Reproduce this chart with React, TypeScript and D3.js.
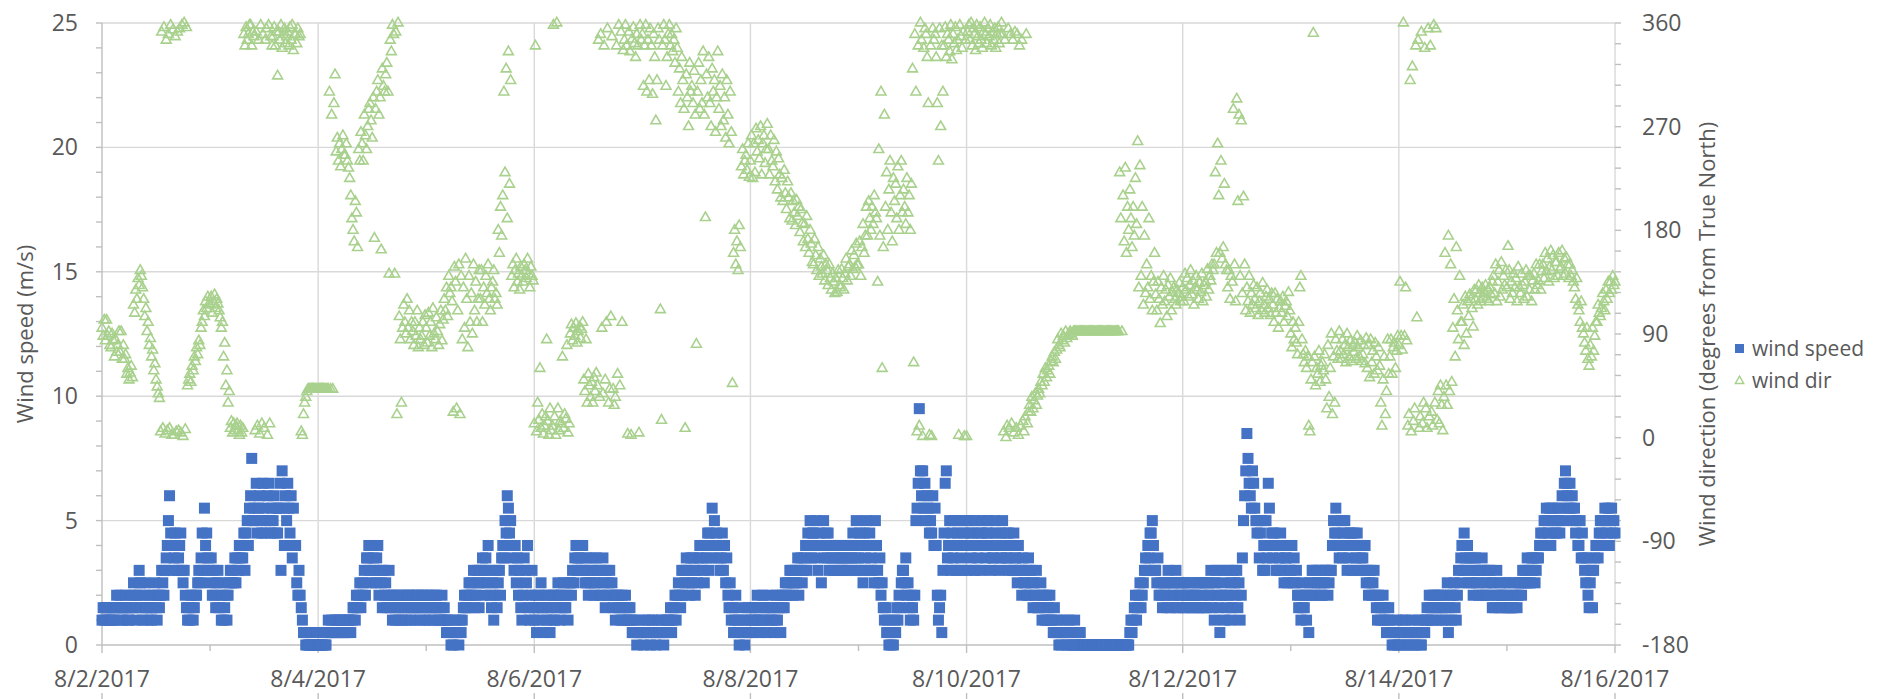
import React, { useEffect, useRef } from 'react';
import * as d3 from 'd3';

// readings every 15 minutes, one row per day starting 8/2/2017 00:00
const startDate = new Date(2017, 7, 2);
const stepMinutes = 15;

const xTickLabels = ['8/2/2017', '8/4/2017', '8/6/2017', '8/8/2017', '8/10/2017', '8/12/2017', '8/14/2017', '8/16/2017'];
const speedTicks = [0, 5, 10, 15, 20, 25];
const dirTicks = [-180, -90, 0, 90, 180, 270, 360];

// wind speed (m/s)
const windSpeedByDay = [
  [1.0,1.5,1.0,1.5, 1.5,1.0,1.5,1.0, 1.0,1.5,1.0,1.5, 1.5,2.0,1.5,1.0, 2.0,1.5,1.0,1.5, 1.5,2.0,1.5,1.0, 1.0,1.5,2.0,1.5, 2.5,2.0,1.5,1.0, 2.0,3.0,2.5,1.5, 1.0,2.0,2.5,1.5, 1.5,1.0,2.0,1.5, 1.0,1.5,2.0,2.5, 1.5,1.0,2.0,1.5, 2.0,3.0,2.5,2.0, 3.0,3.5,4.0,5.0, 6.0,4.5,4.0,3.0, 3.5,4.5,4.0,3.0, 3.5,4.0,4.5,3.0, 2.5,3.0,2.0,1.5, 1.0,1.5,1.0,2.0, 1.5,1.0,1.5,2.0, 2.0,2.5,3.0,2.5, 3.5,4.5,3.0,5.5, 4.0,4.5,3.5,3.0],
  [2.5,3.5,2.0,3.0, 2.0,1.5,2.5,3.0, 1.5,2.5,1.0,2.0, 1.0,1.5,2.0,1.0, 2.0,2.5,3.0,2.5, 3.0,2.5,3.5,2.5, 3.5,3.0,4.0,3.5, 4.0,3.5,4.5,3.0, 4.5,5.0,4.0,5.5, 6.0,7.5,5.0,5.5, 5.0,6.5,4.5,5.5, 6.0,5.0,4.5,6.5, 5.5,4.5,5.0,6.0, 6.5,5.0,4.5,5.5, 5.0,6.0,4.5,5.5, 4.5,5.5,6.5,3.0, 7.0,5.5,4.0,6.0, 5.0,6.5,5.5,4.5, 6.0,3.5,5.5,4.0, 4.0,2.5,2.0,3.0, 2.0,1.5,1.0,0.5, 0.5,0,0.5,0, 0,0,0.5,0, 0,0,0,0.5],
  [0,0,0,0, 0,0.5,0,0, 0.5,1.0,0.5,0.5, 1.0,0.5,0.5,1.0, 0.5,1.0,0.5,1.0, 1.0,0.5,1.0,0.5, 0.5,1.0,0.5,1.0, 1.0,0.5,1.0,1.5, 1.5,1.0,2.0,1.5, 2.0,2.5,1.5,2.0, 2.5,3.0,2.0,3.5, 3.5,4.0,3.0,2.5, 4.0,3.5,3.0,2.5, 3.5,4.0,2.0,3.0, 2.5,1.5,3.0,2.0, 2.5,1.5,2.0,3.0, 1.5,2.0,1.0,2.0, 1.5,1.0,2.0,1.5, 1.0,2.0,1.5,1.0, 2.0,1.5,1.0,2.0, 1.5,2.0,1.0,1.5, 2.0,1.5,1.0,2.0, 1.5,2.0,1.5,1.0, 2.0,1.5,2.0,1.0],
  [1.5,2.0,1.0,1.5, 2.0,1.5,1.0,2.0, 1.5,2.0,1.5,1.0, 1.0,1.5,2.0,1.0, 1.5,1.0,0.5,1.0, 0.5,1.0,0,0.5, 0,0.5,1.0,0.5, 0.5,0,1.0,0.5, 1.0,1.5,2.0,1.5, 2.0,1.5,2.5,2.0, 2.5,2.0,3.0,1.5, 2.0,3.0,2.5,1.5, 3.0,2.5,3.5,2.0, 3.0,3.5,2.5,4.0, 3.0,2.0,1.5,2.5, 1.0,2.0,3.0,1.5, 2.5,3.0,2.0,3.5, 4.0,3.5,5.0,4.5, 6.0,5.5,4.5,5.0, 4.0,3.5,3.0,4.0, 2.5,3.5,2.0,3.0, 1.5,1.0,2.0,3.5, 3.0,2.5,4.0,1.5, 1.0,2.0,3.0,1.5],
  [1.0,2.0,0.5,1.5, 2.0,1.0,2.5,1.5, 1.5,0.5,2.0,1.0, 2.0,1.5,0.5,1.0, 1.5,2.0,1.0,2.0, 1.5,2.5,2.0,1.0, 2.0,1.5,2.5,1.5, 1.5,2.0,1.0,2.5, 2.5,2.0,3.0,2.5, 3.5,4.0,3.0,3.5, 4.0,3.5,3.0,4.0, 3.0,2.5,3.5,2.5, 2.0,3.0,2.5,3.5, 3.0,2.0,2.5,3.5, 2.5,3.0,2.0,3.0, 2.0,3.5,2.5,1.5, 3.0,2.0,2.5,3.0, 2.0,2.5,1.5,2.0, 1.0,2.0,1.5,2.0, 1.5,1.0,2.0,1.0, 1.5,2.0,1.0,1.5, 1.0,1.5,1.0,0.5, 0.5,1.0,0.5,0, 0.5,1.0,0.5,0.5],
  [0.5,0,0.5,1.0, 0.5,0.5,1.0,0, 0.5,1.0,0.5,0.5, 0,0.5,1.0,0.5, 0.5,1.0,0.5,0, 0.5,1.0,0.5,1.0, 1.0,1.5,0.5,1.0, 1.5,2.0,1.0,2.0, 2.5,2.0,1.5,3.0, 2.0,3.0,2.5,3.5, 3.0,2.5,2.0,3.5, 2.5,3.5,3.0,2.0, 3.0,2.5,3.5,4.0, 3.5,4.0,3.0,2.5, 4.0,3.5,4.5,3.0, 4.5,3.5,5.5,4.0, 5.0,4.0,4.5,3.5, 4.0,3.0,3.5,4.5, 3.0,4.0,2.5,3.5, 2.0,1.5,2.5,1.0, 1.5,0.5,1.0,2.0, 0.5,1.0,0,1.5, 0.5,1.0,0.5,0, 1.0,0.5,1.5,0.5],
  [1.0,1.5,0.5,1.0, 1.5,1.0,2.0,1.0, 1.5,0.5,1.0,2.0, 1.0,1.5,0.5,1.5, 2.0,1.0,1.5,1.0, 1.5,0.5,1.0,2.0, 1.0,1.5,2.0,0.5, 1.5,2.0,1.5,2.5, 2.0,2.5,2.0,3.0, 2.5,3.0,2.0,2.5, 3.0,2.5,3.5,2.0, 3.0,3.5,2.5,3.0, 3.5,4.0,3.0,4.5, 4.0,5.0,3.5,4.5, 4.5,3.5,5.0,4.0, 3.0,4.5,4.0,2.5, 4.0,5.0,3.5,4.5, 3.5,4.5,3.0,4.0, 3.5,4.0,3.0,4.0, 3.5,4.0,3.5,3.0, 4.0,3.5,3.0,4.0, 3.5,3.0,4.0,3.5, 3.0,4.0,3.5,4.5, 4.0,3.5,5.0,3.0],
  [3.5,4.5,3.0,4.0, 2.5,4.5,3.5,5.0, 4.0,3.0,4.5,3.5, 3.0,4.0,2.5,5.0, 4.0,3.0,2.5,3.5, 2.0,2.5,1.5,1.0, 1.5,0.5,1.0,0, 0.5,0,0.5,0, 1.0,0.5,1.5,1.0, 2.0,1.5,2.5,3.0, 3.0,2.5,3.5,2.0, 2.5,1.5,1.0,2.0, 1.5,1.0,2.0,5.0, 5.5,6.5,9.5,7.0, 6.0,7.0,5.5,6.5, 5.0,6.0,5.5,4.5, 5.0,4.5,6.0,4.0, 5.5,4.0,2.0,1.0, 1.5,2.0,0.5,3.0, 4.5,6.5,7.0,3.5, 4.0,5.0,3.0,4.5, 3.5,5.0,4.0,3.0, 4.5,4.0,5.0,3.5, 3.0,4.5,4.0,5.0],
  [4.0,3.0,4.5,5.0, 3.5,4.5,4.0,3.0, 5.0,4.0,3.5,4.5, 3.0,4.5,5.0,4.0, 4.0,3.5,4.5,5.0, 4.5,3.0,4.0,3.5, 3.5,5.0,4.5,4.0, 4.0,3.0,4.5,3.5, 5.0,4.0,3.5,4.5, 3.5,4.5,3.0,4.0, 4.0,3.0,4.5,3.5, 3.5,2.5,4.0,3.0, 3.0,2.0,3.5,2.5, 2.5,3.0,2.0,3.5, 2.0,3.0,2.5,1.5, 2.5,2.0,3.0,1.5, 1.5,2.0,2.5,1.0, 2.0,1.5,1.0,2.0, 1.0,1.5,2.0,1.0, 1.0,0.5,1.5,0.5, 0.5,1.0,0,0.5, 0,0.5,1.0,0.5, 0.5,0,0.5,1.0, 0,0.5,0,0],
  [1.0,0.5,0,0.5, 0,0.5,0,0, 0,0,0,0, 0,0,0,0, 0,0,0,0, 0,0,0,0, 0,0,0,0, 0,0,0,0, 0,0,0,0, 0,0,0,0, 0,0,0,0, 0,0,0,0, 0,0.5,1.0,0.5, 1.0,1.5,2.0,1.0, 1.5,2.0,2.5,1.5, 2.0,2.5,3.0,3.5, 3.0,4.0,3.5,4.5, 4.5,5.0,4.0,3.0, 3.0,2.5,3.5,2.0, 2.5,2.0,1.5,2.5, 2.0,2.5,1.5,3.0, 2.5,1.5,2.0,2.5, 2.0,2.5,3.0,1.5, 1.5,2.5,2.0,2.5],
  [2.0,1.5,2.5,2.0, 1.5,2.5,2.0,1.5, 2.5,2.0,1.5,2.0, 2.0,2.5,1.5,2.5, 1.5,2.0,2.5,1.5, 2.5,1.5,2.0,2.5, 2.0,3.0,1.5,2.5, 1.0,2.5,3.0,2.0, 1.5,0.5,2.0,3.0, 2.5,1.0,2.0,1.5, 3.0,2.0,1.0,2.5, 1.5,3.0,2.5,2.0, 3.0,1.5,2.5,1.0, 2.0,3.5,5.0,6.0, 7.0,8.5,7.5,6.5, 6.0,5.5,7.0,6.5, 5.5,5.0,4.5,5.0, 3.5,4.5,5.0,3.0, 4.0,3.0,5.0,3.5, 6.5,5.5,4.0,4.5, 3.5,4.5,4.0,3.0, 4.0,3.0,3.5,4.5, 3.0,4.0,2.5,3.5, 3.5,2.5,4.0,3.0],
  [3.0,4.0,2.5,3.5, 2.5,3.0,2.0,1.5, 2.0,1.0,1.5,2.5, 1.5,2.0,1.0,2.0, 0.5,2.5,2.0,3.0, 3.0,2.5,2.0,3.0, 2.5,3.0,2.0,2.5, 2.0,3.0,2.5,3.0, 3.0,2.0,2.5,3.0, 3.0,4.0,5.0,4.5, 5.5,4.5,4.0,3.5, 4.0,5.0,3.5,4.5, 5.0,4.0,3.0,4.5, 3.5,4.5,4.0,3.0, 4.5,4.0,3.5,4.5, 3.0,4.0,3.5,4.0, 3.5,3.0,4.0,2.5, 3.0,2.0,2.5,3.0, 2.0,2.5,3.0,2.0, 1.5,1.0,2.0,1.5, 1.0,1.5,2.0,1.0, 1.5,0.5,1.0,1.5, 1.0,0.5,0,0.5, 0,0.5,1.0,0],
  [0.5,0,0.5,1.0, 0,0.5,1.0,0.5, 0.5,0,0.5,0, 1.0,0.5,0,0.5, 0.5,1.0,0.5,0, 0,0.5,1.0,0.5, 1.0,1.5,1.0,2.0, 1.5,1.0,2.0,1.5, 2.0,1.0,1.5,2.0, 1.5,2.0,1.0,1.5, 2.0,1.5,1.0,2.5, 0.5,1.5,2.0,1.0, 2.0,2.5,1.5,1.0, 2.0,3.0,2.5,3.5, 4.0,3.0,4.5,3.5, 3.0,4.0,2.5,3.5, 2.5,3.5,2.0,3.0, 3.5,2.5,3.0,2.0, 2.5,3.0,3.5,2.0, 3.0,2.0,2.5,3.0, 2.0,3.0,2.5,1.5, 2.5,1.5,2.0,3.0, 2.0,1.5,2.5,2.0, 1.5,2.0,2.5,1.5],
  [2.0,1.5,2.5,1.5, 1.5,2.0,1.5,2.5, 2.0,1.5,2.0,2.5, 2.5,2.0,3.0,2.5, 3.0,2.5,3.5,2.5, 3.0,2.5,3.5,3.0, 3.5,2.5,3.0,3.5, 3.5,4.0,4.5,4.0, 4.5,5.0,4.0,5.5, 5.0,4.5,5.5,4.0, 5.5,5.0,4.5,5.0, 4.5,5.5,5.0,4.5, 5.5,6.0,5.0,6.5, 7.0,6.5,6.0,5.5, 6.5,5.5,6.0,5.0, 5.5,4.5,5.0,4.0, 4.0,5.0,3.5,4.5, 3.5,3.0,2.5,3.5, 2.0,1.5,2.5,3.0, 1.5,3.0,3.5,4.0, 4.0,3.5,4.5,5.0, 4.5,5.0,4.0,5.5, 5.0,4.5,5.5,4.0, 5.0,5.5,4.5,5.0],
  [4.5],
];

// wind direction (degrees from true north)
const windDirByDay = [
  [95,88,102,84, 102,88,92,80, 78,90,84,70, 85,74,80,92, 74,92,68,80, 68,72,55,60, 50,56,62,52, 115,108,128,120, 138,132,145,140, 130,120,105,112, 92,100,80,86, 70,76,58,64, 50,44,38,34, 5,352,8,356, 3,345,6,350, 8,358,2,354, 2,348,5,352, 6,355,4,358, 1,360,7,356, 45,50,55,48, 62,58,70,66, 78,72,84,80, 95,100,110,105, 118,112,122,116],
  [115,122,108,118, 124,112,120,116, 110,104,95,100, 70,82,45,58, 30,40,8,14, 4,12,6,10, 12,6,2,10, 4,8,350,340, 356,345,350,358, 358,340,352,348, 6,352,10,345, 3,358,12,350, 8,345,355,2, 358,12,348,340, 348,356,340,352, 314,352,345,358, 338,350,355,342, 348,352,340,356, 345,358,336,350, 350,342,355,348, 350,5,2,20, 30,35,40,42, 42,42,42,42, 42,42,42,42],
  [42,42,42,42, 42,42,42,42, 42,42,300,42, 280,42,290,315, 248,260,240,255, 235,250,262,245, 245,255,240,234, 225,210,190,180, 170,205,195,165, 250,240,265,255, 240,280,262,250, 270,285,290,275, 260,295,173,285, 300,310,280,295, 163,320,305,300, 315,325,300,142, 345,335,358,350, 142,352,20,360, 105,85,30,95, 115,100,90,120, 95,110,85,100, 92,80,100,88, 110,78,95,85, 88,100,80,106],
  [95,82,108,88, 100,78,112,90, 85,104,92,80, 98,110,84,102, 120,110,130,105, 140,125,130,118, 22,148,135,25, 110,150,20,140, 85,130,95,155, 120,78,140,100, 125,90,150,110, 135,100,120,145, 120,145,100,130, 115,140,125,150, 120,110,130,135, 145,120,125,115, 180,160,200,175, 210,300,230,320, 190,335,220,310, 140,150,130,145, 155,135,142,128, 148,140,135,150, 145,138,155,142, 130,148,140,136],
  [12,340,5,30, 15,60,8,20, 3,10,18,85, 14,2,25,6, 10,358,18,2, 360,25,6,14, 12,70,8,20, 16,80,4,12, 90,98,84,95, 88,99,82,92, 96,86,94,100, 50,40,85,30, 55,45,35,48, 30,52,40,56, 45,345,35,350, 95,38,340,50, 100,355,30,42, 105,348,42,28, 35,340,55,358, 45,352,100,336, 345,358,340,3, 352,335,2,346, 356,342,330,350, 340,4,358,345],
  [350,305,340,358, 300,345,310,355, 340,298,350,330, 275,310,355,345, 111,15,340,358, 345,305,330,350, 358,340,350,335, 345,325,355,338, 300,320,290,330, 310,285,8,315, 295,270,325,300, 305,290,318,280, 81,300,325,285, 310,290,335,280, 191,315,295,330, 290,270,320,300, 310,265,295,335, 285,305,270,315, 275,295,260,310, 280,255,300,265, 47,160,180,150, 170,145,184,165, 235,250,228,240, 245,232,255,226],
  [240,262,225,255, 230,268,248,258, 242,270,228,255, 262,238,250,272, 250,228,262,240, 235,258,222,248, 215,242,228,208, 225,205,232,212, 198,222,208,190, 212,188,205,195, 184,206,192,200, 178,198,186,170, 185,165,192,172, 160,180,168,152, 150,172,158,145, 165,140,155,148, 142,158,136,150, 145,132,150,138, 128,142,135,125, 138,126,145,132, 130,146,138,128, 142,155,136,148, 150,140,162,146, 158,148,168,150],
  [150,170,140,165, 185,160,175,200, 175,205,190,180, 200,185,210,195, 190,135,250,175, 300,60,165,280, 200,230,180,215, 240,195,170,225, 205,220,190,235, 180,210,240,195, 215,200,185,225, 195,210,180,220, 320,65,350,300, 5,340,10,360, 345,1,338,355, 350,330,290,2, 340,1,355,345, 350,330,290,240, 355,270,340,300, 340,356,330,350, 345,335,358,328, 350,342,356,336, 345,2,358,348, 338,352,1,345],
  [1,352,358,345, 360,340,355,350, 336,358,348,342, 356,345,338,352, 360,350,342,355, 348,358,340,352, 345,355,338,350, 356,342,350,360, 350,5,345,0, 10,355,8,350, 12,345,4,352, 8,350,2,340, 10,345,14,5, 18,350,12,22, 28,22,35,25, 32,38,28,36, 42,38,48,45, 55,48,60,52, 58,62,55,66, 70,65,74,68, 76,85,80,78, 90,84,88,82, 92,86,88,90, 92,90,88,92],
  [92,92,92,92, 92,92,92,92, 92,92,92,92, 92,92,92,92, 92,92,92,92, 92,92,92,92, 92,92,92,92, 92,92,92,92, 92,92,92,92, 92,92,92,92, 230,190,92,210, 170,234,160,200, 180,215,190,165, 200,175,225,185, 257,130,236,140, 200,115,175,125, 150,130,190,120, 140,110,135,160, 124,110,135,120, 99,130,115,140, 118,128,105,132, 122,138,110,126, 130,120,115,128, 125,134,118,122],
  [130,118,142,128, 138,122,132,145, 124,136,115,130, 140,128,120,134, 126,142,118,132, 135,122,146,128, 140,136,150,145, 150,230,160,255, 210,160,240,155, 165,220,150,145, 130,145,120,140, 135,285,150,118, 294,205,280,140, 275,125,209,150, 110,130,118,140, 108,125,115,132, 120,112,130,106, 118,125,110,134, 115,108,122,128, 112,120,106,125, 115,100,125,108, 120,95,112,118, 108,122,100,114, 118,105,126,110],
  [90,78,100,85, 95,82,72,100, 130,140,85,72, 65,75,60,70, 10,5,50,65, 351,70,45,60, 55,75,48,62, 65,58,72,50, 25,80,35,60, 90,20,70,30, 85,75,68,92, 75,68,85,72, 80,65,90,78, 70,84,66,80, 74,82,68,88, 78,70,84,66, 72,80,64,86, 60,80,52,85, 65,75,55,82, 70,58,78,62, 30,10,50,70, 20,40,85,55, 70,85,55,78, 82,60,75,88],
  [80,135,88,76, 360,88,130,84, 10,20,310,5, 322,14,25,340, 104,345,8,18, 352,12,30,338, 25,8,355,18, 340,22,10,358, 30,355,15,40, 12,45,28,6, 35,160,45,28, 175,40,150,48, 95,120,70,165, 110,85,140,100, 100,115,80,122, 90,118,105,124, 120,112,96,128, 120,128,115,132, 125,118,130,122, 126,132,120,128, 118,130,124,135, 140,125,150,118, 135,145,122,152, 128,140,132,145],
  [130,166,145,120, 135,125,142,130, 138,118,148,130, 125,142,132,120, 135,145,122,140, 128,140,118,136, 142,128,150,132, 136,150,128,144, 150,138,160,144, 155,135,148,162, 145,158,138,152, 152,140,160,146, 148,162,140,155, 142,156,150,138, 150,140,145,135, 130,120,138,115, 110,100,118,95, 90,82,75,95, 68,62,80,70, 95,75,88,100, 100,115,108,105, 112,125,118,110, 128,120,135,125, 135,128,140,132],
  [135],
];

const toPoints = (byDay: number[][]) =>
  byDay.flatMap((day, d) =>
    day.map((v, j) => ({ t: d3.timeMinute.offset(d3.timeDay.offset(startDate, d), j * stepMinutes), v }))
  );

const blue = '#4472c4';
const green = '#a9d18e';
const textColor = '#595959';
const gridColor = '#d9d9d9';
const axisColor = '#bfbfbf';
const font = '"Open Sans", "Liberation Sans", sans-serif';

const App = () => {
  const svgRef = useRef<SVGSVGElement>(null);

  useEffect(() => {
    const width = 1887;
    const height = 699;
    const left = 102, right = 1615, top = 23, bottom = 645;

    const svg = d3.select(svgRef.current);
    svg.selectAll('*').remove();
    svg.attr('width', width).attr('height', height);

    const x = d3.scaleTime()
      .domain([startDate, d3.timeDay.offset(startDate, 14)])
      .range([left, right]);
    const ySpeed = d3.scaleLinear().domain([0, 25]).range([bottom, top]);
    const yDir = d3.scaleLinear().domain([-180, 360]).range([bottom, top]);

    const allDays = d3.range(0, 15).map(d => d3.timeDay.offset(startDate, d));
    const majorDays = allDays.filter((d, i) => i % 2 === 0);

    // gridlines
    const grid = svg.append('g');
    grid.selectAll('line.h')
      .data(speedTicks.filter(d => d > 0))
      .enter().append('line')
      .attr('x1', left).attr('x2', right)
      .attr('y1', d => ySpeed(d)).attr('y2', d => ySpeed(d))
      .attr('stroke', gridColor).attr('stroke-width', 1.4);
    grid.selectAll('line.v')
      .data(majorDays.slice(1))
      .enter().append('line')
      .attr('x1', d => x(d)).attr('x2', d => x(d))
      .attr('y1', top).attr('y2', bottom)
      .attr('stroke', gridColor).attr('stroke-width', 1.4);

    // axis lines and ticks
    const axes = svg.append('g').attr('stroke', axisColor).attr('stroke-width', 1.4);
    axes.append('line').attr('x1', left).attr('x2', left).attr('y1', top).attr('y2', bottom);
    axes.append('line').attr('x1', left).attr('x2', right).attr('y1', bottom).attr('y2', bottom);
    axes.selectAll('line.lt')
      .data(d3.range(0, 26))
      .enter().append('line')
      .attr('x1', left - 6).attr('x2', left)
      .attr('y1', d => ySpeed(d)).attr('y2', d => ySpeed(d));
    axes.selectAll('line.rt')
      .data(d3.range(-180, 361, 18))
      .enter().append('line')
      .attr('x1', right).attr('x2', right + 6)
      .attr('y1', d => yDir(d)).attr('y2', d => yDir(d));
    axes.selectAll('line.bt')
      .data(allDays)
      .enter().append('line')
      .attr('x1', d => x(d)).attr('x2', d => x(d))
      .attr('y1', bottom).attr('y2', (d, i) => bottom + (i % 2 === 0 ? 8 : 6));
    axes.selectAll('line.bb')
      .data(majorDays)
      .enter().append('line')
      .attr('x1', d => x(d)).attr('x2', d => x(d))
      .attr('y1', 693).attr('y2', 699);

    // wind speed squares
    const sq = 11;
    svg.append('g')
      .selectAll('rect')
      .data(toPoints(windSpeedByDay))
      .enter().append('rect')
      .attr('x', d => x(d.t) - sq / 2)
      .attr('y', d => ySpeed(d.v) - sq / 2)
      .attr('width', sq).attr('height', sq)
      .attr('fill', blue);

    // wind direction triangles (hollow)
    const tri = d3.symbol(d3.symbolTriangle, 42)();
    svg.append('g')
      .selectAll('path')
      .data(toPoints(windDirByDay))
      .enter().append('path')
      .attr('d', tri)
      .attr('transform', d => `translate(${x(d.t)},${yDir(d.v)})`)
      .attr('fill', 'none')
      .attr('stroke', green)
      .attr('stroke-width', 1.6);

    // tick labels
    const labels = svg.append('g')
      .attr('font-family', font).attr('font-size', 23).attr('fill', textColor);
    labels.selectAll('text.l')
      .data(speedTicks)
      .enter().append('text')
      .attr('x', 78).attr('y', d => ySpeed(d))
      .attr('dy', '0.35em').attr('text-anchor', 'end')
      .text(d => d);
    labels.selectAll('text.r')
      .data(dirTicks)
      .enter().append('text')
      .attr('x', 1642).attr('y', d => yDir(d))
      .attr('dy', '0.35em').attr('text-anchor', 'start')
      .text(d => d);
    labels.selectAll('text.b')
      .data(majorDays)
      .enter().append('text')
      .attr('x', d => x(d)).attr('y', 687)
      .attr('text-anchor', 'middle')
      .text((d, i) => xTickLabels[i]);

    // axis titles
    const mid = (top + bottom) / 2;
    labels.append('text')
      .attr('transform', `translate(33,${mid}) rotate(-90)`)
      .attr('text-anchor', 'middle').attr('font-size', 22)
      .text('Wind speed (m/s)');
    labels.append('text')
      .attr('transform', `translate(1715,${mid}) rotate(-90)`)
      .attr('text-anchor', 'middle').attr('font-size', 22)
      .text('Wind direction (degrees from True North)');

    // legend
    const legend = svg.append('g').attr('font-family', font).attr('font-size', 21).attr('fill', textColor);
    legend.append('rect').attr('x', 1735).attr('y', 344).attr('width', 9).attr('height', 9).attr('fill', blue);
    legend.append('text').attr('x', 1752).attr('y', 349).attr('dy', '0.35em').text('wind speed');
    legend.append('path').attr('d', d3.symbol(d3.symbolTriangle, 30)())
      .attr('transform', 'translate(1739.5,381)')
      .attr('fill', 'none').attr('stroke', green).attr('stroke-width', 1.5);
    legend.append('text').attr('x', 1752).attr('y', 381).attr('dy', '0.35em').text('wind dir');
  }, []);

  return (
    <div style={{ position: 'absolute', left: 0, top: 0, width: 1887, height: 699, background: '#fff' }}>
      <svg ref={svgRef} style={{ display: 'block' }} />
    </div>
  );
};

export default App;
